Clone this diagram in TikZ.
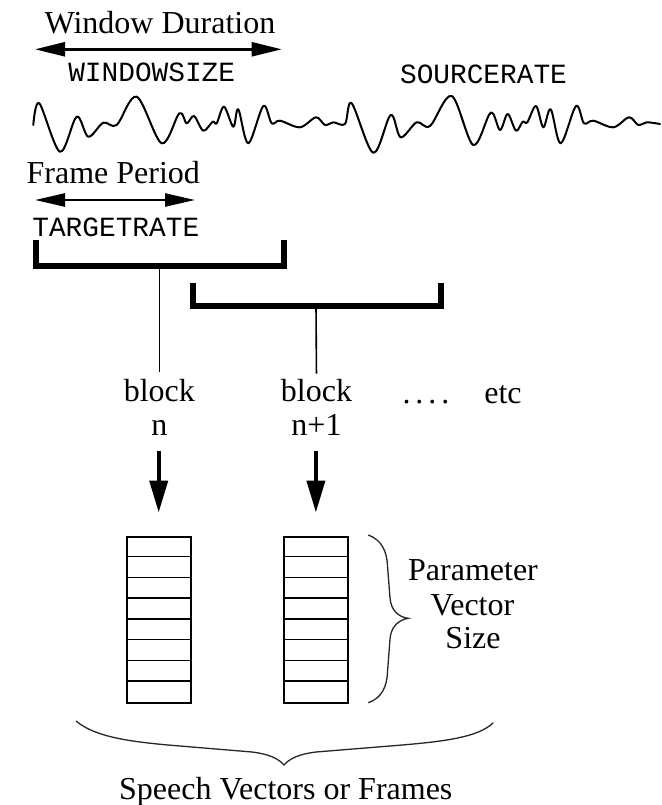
\documentclass[tikz,border=0pt]{standalone}
\usepackage{fontspec}
\setmainfont{Liberation Serif}
\setmonofont{Liberation Mono}
\usetikzlibrary{arrows.meta}
\begin{document}
\begin{tikzpicture}[x=1pt,y=-1pt,
  lbl/.style={inner sep=0pt, anchor=base, font=\fontsize{32}{36}\selectfont},
  code/.style={inner sep=0pt, anchor=base, font=\ttfamily\fontsize{27.8}{32}\selectfont},
  dimarrow/.style={line width=2.5pt, {Triangle[length=30pt,width=14pt]}-{Triangle[length=30pt,width=14pt]}},
  framearrow/.style={line width=2.5pt, {Triangle[length=30pt,width=13pt]}-{Triangle[length=30pt,width=13pt]}},
  bracket/.style={line width=6pt, line join=miter, line cap=butt},
  stem/.style={line width=1.6pt},
  blockarrow/.style={line width=4pt, -{Triangle[length=32pt,width=18pt]}},
  vecbox/.style={draw, line width=1.6pt, minimum width=64pt, minimum height=166pt, inner sep=0pt},
  cell/.style={line width=1.6pt},
  wave/.style={line width=2pt, line join=round, line cap=round},
  bracecurve/.style={line width=1.3pt, black!85}
]
\fill[white] (0,0) rectangle (661,805);
\useasboundingbox (0,0) rectangle (661,805);

% Window duration
\node[lbl] (wdur) at (160,33.3) {Window Duration};
\coordinate (wl) at (35,49.3);
\coordinate (wr) at (281.7,49.3);
\draw[dimarrow] (wl) -- (wr);
\node[code] (wsize) at (151.7,81.7) {WINDOWSIZE};
\node[code] (srate) at (483.5,84) {SOURCERATE};

% waveform
\draw[wave] plot[smooth, tension=0.55] coordinates {
(33.3,125) (39.3,103.3) (60,151.7) (76.7,116.7) (88.3,136.7) (103.3,122.7) (116.7,125)
(136.7,96.7) (161.7,143.3) (179.3,113.3) (186.7,123.3) (194,116) (203.3,130.7) (212.7,121.7)
(216.7,123.3) (224,106.7) (233.3,126.7) (238.3,109.3) (248.3,143.3) (263.3,106) (271.7,123.3)
(280,120.7) (300,127.3) (316,117.3) (325,125) (333.3,122.3) (345,124)
(351.7,103.3) (373.3,152.7) (390.7,115) (400.7,137.3) (416.7,122.3) (430,126) (451.7,96)
(473.3,145) (490.7,112.7) (500,130) (507.7,114) (516,130.7) (522.7,121.7) (527.3,122.3)
(536,106) (543.3,127.3) (550.7,109.3) (560.7,143.3) (576,106) (584,123.3) (593.3,120.7)
(613.3,127.3) (629,117.3) (638.3,125) (646.7,122.3) (660,124)};

% Frame period
\node[lbl] (fper) at (113.3,183.3) {Frame Period};
\coordinate (fl) at (35,200);
\coordinate (fr) at (195,200);
\draw[framearrow] (fl) -- (fr);
\node[code] (trate) at (115.8,236.3) {TARGETRATE};

% brackets
\draw[bracket] (35.5,240) -- (35.5,266) -- (284.3,266) -- (284.3,240);
\coordinate (b1mid) at (159.3,266);
\draw[bracket] (193,282.7) -- (193,306) -- (441,306) -- (441,282.7);
\coordinate (b2mid) at (316,306);

% block labels
\node[lbl] (blk1) at (159.3,401) {block};
\node[lbl] (n1) at (159.3,435) {n};
\node[lbl] (blk2) at (316.5,401) {block};
\node[lbl] (n2) at (316.5,435) {n+1};
\node[lbl] (dots) at (426,403) {.\kern5pt.\kern5pt.\kern5pt.};
\node[lbl] (etc) at (503,403) {etc};

\draw[stem, shorten >=7pt] (b1mid) -- (blk1.north);
\draw[stem, shorten >=5pt] (b2mid) -- (blk2.north);

% vector boxes
\node[vecbox] (box1) at (158.7,619.7) {};
\node[vecbox] (box2) at (315.9,619.7) {};
\foreach \i in {1,...,7}{
  \draw[cell] ([yshift=-\i*20.75pt]box1.north west) -- ([yshift=-\i*20.75pt]box1.north east);
  \draw[cell] ([yshift=-\i*20.75pt]box2.north west) -- ([yshift=-\i*20.75pt]box2.north east);
}

\draw[blockarrow, shorten <=15.7pt, shorten >=23.4pt] (n1.south -| box1.north) -- (box1.north);
\draw[blockarrow, shorten <=15.7pt, shorten >=23.4pt] (n2.south -| box2.north) -- (box2.north);

% right brace
\draw[bracecurve] (368.3,535) .. controls (382,540) and (387,552) .. (387.5,566)
  -- (390,598) .. controls (391,610) and (398,617) .. (408.3,618.3)
  .. controls (398,620) and (391,627) .. (390,639)
  -- (387.5,672) .. controls (387,686) and (382,698) .. (368.3,702.7);
\node[lbl] (par) at (473,580) {Parameter};
\node[lbl] (vec) at (472.5,615) {Vector};
\node[lbl] (siz) at (473,648.3) {Size};

% bottom brace
\draw[bracecurve] (76,721) .. controls (95,737) and (130,742) .. (180,746)
  -- (252,752) .. controls (268,754) and (278,758) .. (284,765)
  .. controls (290,758) and (300,754) .. (316,752)
  -- (390,746) .. controls (440,742) and (478,738) .. (493.3,722.7);
\node[lbl] (svf) at (285.8,799) {Speech Vectors or Frames};
\end{tikzpicture}
\end{document}
